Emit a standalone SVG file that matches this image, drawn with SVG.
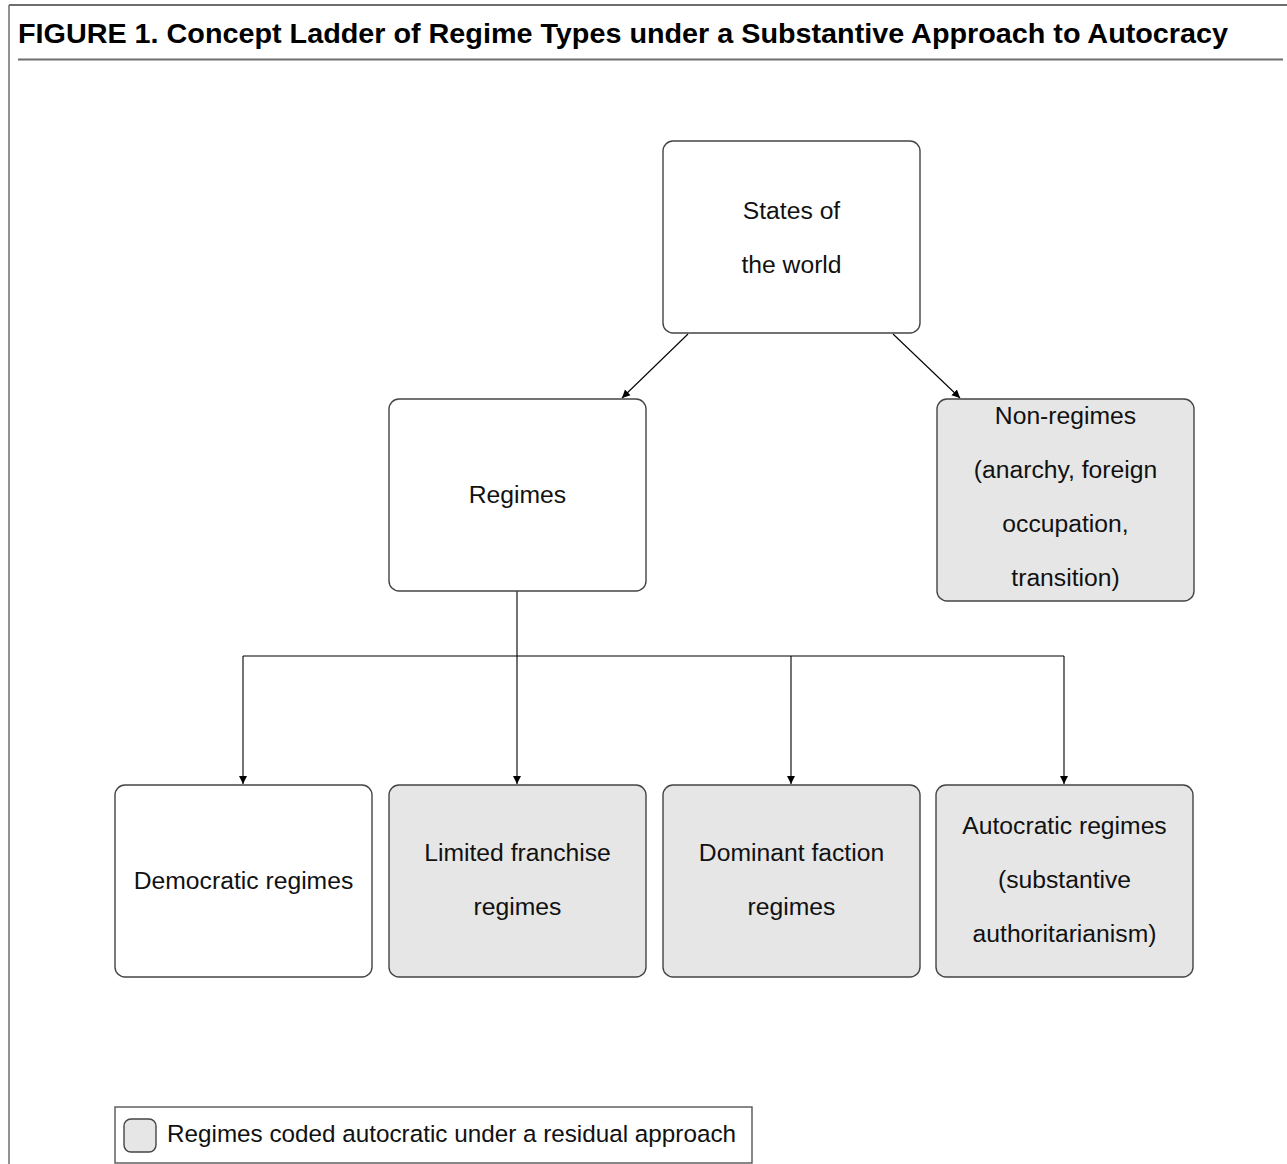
<svg xmlns="http://www.w3.org/2000/svg" width="1287" height="1164" viewBox="0 0 1287 1164">
<style>
.frame{stroke:#6e6e6e;stroke-width:2;fill:none}
.node{stroke:#444;stroke-width:1.4}
.plain{fill:#ffffff}
.shaded{fill:#e6e6e6}
.lbl{font-family:"Liberation Sans",Arial,sans-serif;font-size:24.7px;fill:#111;text-anchor:middle}
.title{font-family:"Liberation Sans",Arial,sans-serif;font-size:28px;font-weight:bold;fill:#000}
.conn{stroke:#000;stroke-width:1.1;fill:none}
</style>
<defs>
<marker id="arr" viewBox="0 0 10 10" refX="10" refY="5" markerWidth="8" markerHeight="10" markerUnits="userSpaceOnUse" orient="auto">
<path d="M0,0 L10,5 L0,10 z" fill="#000"/>
</marker>
</defs>
<rect width="1287" height="1164" fill="#ffffff"/>
<g id="frame">
<line class="frame" x1="9" y1="5" x2="1287" y2="5"/>
<line class="frame" x1="9" y1="5" x2="9" y2="1164" style="stroke-width:1.5"/>
<line class="frame" x1="18" y1="59.5" x2="1283" y2="59.5"/>
<text class="title" x="18" y="43" textLength="1210" lengthAdjust="spacingAndGlyphs">FIGURE 1. Concept Ladder of Regime Types under a Substantive Approach to Autocracy</text>
</g>
<g id="connectors">
<line class="conn" x1="688" y1="334" x2="622" y2="398" marker-end="url(#arr)"/>
<line class="conn" x1="893" y1="334" x2="960" y2="398" marker-end="url(#arr)"/>
<polyline class="conn" points="517,591 517,656"/>
<line class="conn" x1="243" y1="656" x2="1064" y2="656"/>
<line class="conn" x1="243" y1="656" x2="243" y2="784" marker-end="url(#arr)"/>
<line class="conn" x1="517" y1="656" x2="517" y2="784" marker-end="url(#arr)"/>
<line class="conn" x1="791" y1="656" x2="791" y2="784" marker-end="url(#arr)"/>
<line class="conn" x1="1064" y1="656" x2="1064" y2="784" marker-end="url(#arr)"/>
</g>
<g id="states">
<rect class="node plain" x="663" y="141" width="257" height="192" rx="10"/>
<text class="lbl" x="791.5" y="219">States of</text>
<text class="lbl" x="791.5" y="273">the world</text>
</g>
<g id="regimes">
<rect class="node plain" x="389" y="399" width="257" height="192" rx="10"/>
<text class="lbl" x="517.5" y="503">Regimes</text>
</g>
<g id="nonregimes">
<rect class="node shaded" x="937" y="399" width="257" height="202" rx="10"/>
<text class="lbl" x="1065.5" y="424">Non-regimes</text>
<text class="lbl" x="1065.5" y="478">(anarchy, foreign</text>
<text class="lbl" x="1065.5" y="532">occupation,</text>
<text class="lbl" x="1065.5" y="586">transition)</text>
</g>
<g id="democratic">
<rect class="node plain" x="115" y="785" width="257" height="192" rx="10"/>
<text class="lbl" x="243.5" y="889">Democratic regimes</text>
</g>
<g id="limited">
<rect class="node shaded" x="389" y="785" width="257" height="192" rx="10"/>
<text class="lbl" x="517.5" y="861">Limited franchise</text>
<text class="lbl" x="517.5" y="915">regimes</text>
</g>
<g id="dominant">
<rect class="node shaded" x="663" y="785" width="257" height="192" rx="10"/>
<text class="lbl" x="791.5" y="861">Dominant faction</text>
<text class="lbl" x="791.5" y="915">regimes</text>
</g>
<g id="autocratic">
<rect class="node shaded" x="936" y="785" width="257" height="192" rx="10"/>
<text class="lbl" x="1064.5" y="834">Autocratic regimes</text>
<text class="lbl" x="1064.5" y="888">(substantive</text>
<text class="lbl" x="1064.5" y="942">authoritarianism)</text>
</g>
<g id="legend">
<rect x="115" y="1107" width="637" height="56" fill="#ffffff" stroke="#555" stroke-width="1.4"/>
<rect class="node shaded" x="124" y="1119" width="32" height="33" rx="7"/>
<text class="lbl" x="167" y="1142" style="text-anchor:start;font-size:24.3px" textLength="569" lengthAdjust="spacingAndGlyphs">Regimes coded autocratic under a residual approach</text>
</g>
</svg>
